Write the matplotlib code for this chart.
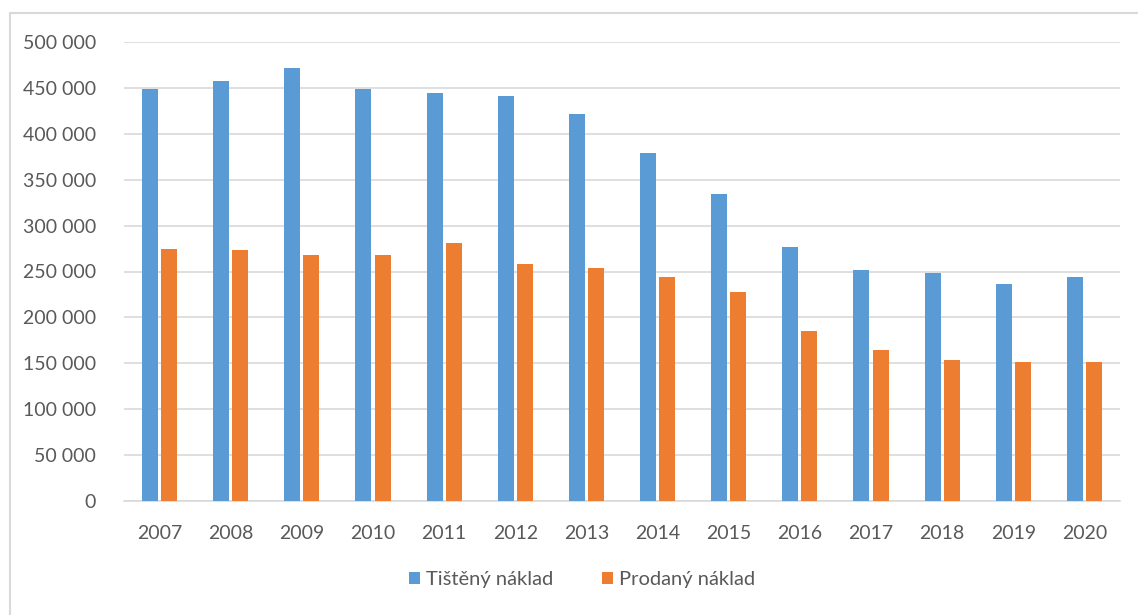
import matplotlib.pyplot as plt
import numpy as np
from matplotlib.patches import Rectangle
from matplotlib.ticker import FuncFormatter

# roční náklady
roky = ['2007', '2008', '2009', '2010', '2011', '2012', '2013',
        '2014', '2015', '2016', '2017', '2018', '2019', '2020']
tisteny = [448500, 457500, 471300, 449000, 444000, 441000, 421600,
           379000, 334000, 276700, 251600, 248700, 236400, 244300]
prodany = [274800, 273000, 268300, 268300, 281000, 258000, 253800,
           244000, 227700, 185500, 164000, 154000, 151800, 151000]

BLUE = '#5B9BD5'
ORANGE = '#ED7D31'
GRAY = '#595959'
GRID = '#D9D9D9'

plt.rcParams['font.family'] = ['Lato', 'DejaVu Sans']


def thousands(v, pos):
    return f'{int(v):,}'.replace(',', ' ')


def main():
    fig = plt.figure(figsize=(11.38, 6.15), dpi=100)
    # rámeček grafu (pravý a spodní okraj mimo obrázek)
    fig.patches.append(Rectangle((10 / 1138, -0.05), 1.0, 1.05 - 13 / 615,
                                 transform=fig.transFigure, fill=False,
                                 edgecolor=GRID, linewidth=1.5))
    ax = fig.add_axes([124 / 1138, 1 - 501 / 615, 996 / 1138, 459 / 615])

    x = np.arange(len(roky))
    w = 0.225
    gap = 0.045
    ax.bar(x - (w + gap) / 2, tisteny, w, color=BLUE, label='Tištěný náklad', zorder=3)
    ax.bar(x + (w + gap) / 2, prodany, w, color=ORANGE, label='Prodaný náklad', zorder=3)

    ax.set_xlim(-0.5, len(roky) - 0.5)
    ax.set_ylim(0, 500000)
    ax.set_yticks(np.arange(0, 500001, 50000))
    ax.yaxis.set_major_formatter(FuncFormatter(thousands))
    ax.set_xticks(x)
    ax.set_xticklabels(roky)

    ax.grid(axis='y', color=GRID, linewidth=1.2, zorder=0)
    for s in ['top', 'right', 'left']:
        ax.spines[s].set_visible(False)
    ax.spines['bottom'].set_color(GRID)
    ax.spines['bottom'].set_linewidth(1.2)
    ax.tick_params(axis='both', length=0, labelsize=14, labelcolor=GRAY)
    ax.tick_params(axis='y', pad=20)
    ax.tick_params(axis='x', pad=17)

    ax.legend(loc='center', bbox_to_anchor=(0.46, -0.172), ncol=2,
              frameon=False, fontsize=14.5, labelcolor=GRAY,
              handlelength=0.55, handleheight=0.55, handletextpad=0.3,
              columnspacing=2.4)

    fig.savefig('out.png', dpi=100)


if __name__ == '__main__':
    main()
